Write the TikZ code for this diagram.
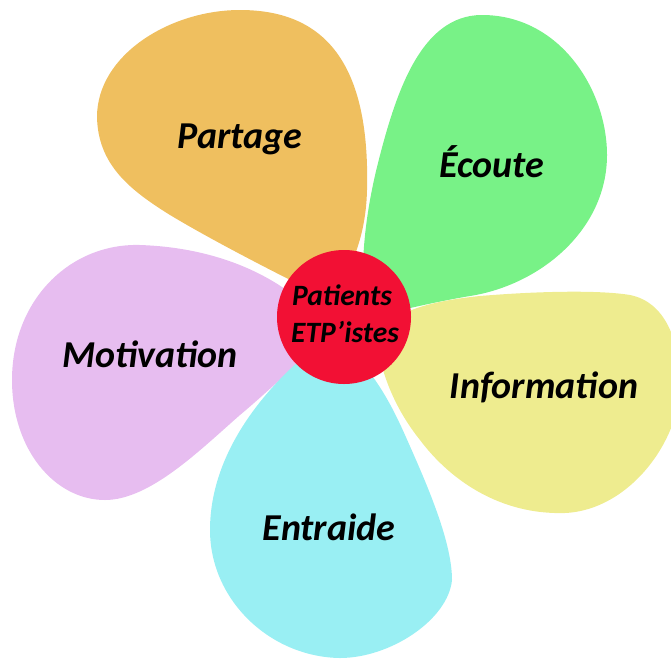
\documentclass[tikz,border=0pt]{standalone}
\usepackage{fontspec}
\setmainfont{Carlito}
\definecolor{cOrange}{HTML}{EFBF5F}
\definecolor{cGreen}{HTML}{78F287}
\definecolor{cYellow}{HTML}{EEEC8F}
\definecolor{cCyan}{HTML}{99EFF3}
\definecolor{cPink}{HTML}{E7BDF0}
\definecolor{cRed}{HTML}{F21034}
\tikzset{
  lbl/.style={anchor=base, inner sep=0pt, font=\fontsize{38}{44}\selectfont\bfseries\itshape},
  hub/.style={circle, fill=cRed, minimum size=134pt, inner sep=0pt},
  hubtxt/.style={anchor=base, inner sep=0pt, font=\fontsize{29.5}{34}\selectfont\bfseries\itshape}
}
\begin{document}
\begin{tikzpicture}[x=1pt,y=-1pt]
\useasboundingbox (0,0) rectangle (671,659);
\clip (0,0) rectangle (671,659);
% Motivation
\fill[cPink] (320,320) .. controls (290,285) and (230,248) .. (140,245)
  .. controls (70,243) and (12,300) .. (12,380)
  .. controls (12,450) and (55,500) .. (105,500)
  .. controls (150,500) and (200,450) .. (240,415)
  .. controls (270,390) and (300,360) .. (320,345) -- cycle;
% Partage
\fill[cOrange] (330,300) .. controls (352,270) and (366,235) .. (367,190)
  .. controls (370,70) and (330,10) .. (240,10)
  .. controls (170,10) and (97,55) .. (97,117)
  .. controls (98,165) and (130,190) .. (170,215)
  .. controls (220,245) and (290,280) .. (330,300) -- cycle;
% Ecoute
\fill[cGreen] (368,318) .. controls (358,280) and (364,220) .. (377,167)
  .. controls (395,95) and (420,15) .. (482,15)
  .. controls (560,15) and (607,90) .. (607,155)
  .. controls (607,230) and (540,285) .. (470,296)
  .. controls (440,301) and (400,310) .. (368,318) -- cycle;
% Information
\fill[cYellow] (378,335) .. controls (390,315) and (420,302) .. (480,296)
  .. controls (540,291) and (600,290) .. (630,295)
  .. controls (665,302) and (680,340) .. (680,385)
  .. controls (680,440) and (630,510) .. (565,513)
  .. controls (500,515) and (450,480) .. (420,440)
  .. controls (400,415) and (385,385) .. (378,350) -- cycle;
% Entraide
\fill[cCyan] (335,340) .. controls (365,360) and (385,390) .. (405,435)
  .. controls (425,480) and (452,540) .. (452,580)
  .. controls (448,620) and (390,658) .. (340,658)
  .. controls (270,657) and (210,600) .. (210,530)
  .. controls (210,460) and (255,400) .. (300,360) -- cycle;
\node[hub] (hub) at (344,317) {};
\node[hubtxt] (p1) at (342,305) {Patients};
\node[hubtxt] (p2) at (345,342) {ETP’istes};
\node[lbl] (partage) at (240,148) {Partage};
\node[lbl] (ecoute) at (492,177) {Écoute};
\node[lbl] (info) at (544,398) {Information};
\node[lbl] (entraide) at (329,540) {Entraide};
\node[lbl] (motiv) at (150,367) {Motivation};
\end{tikzpicture}
\end{document}
